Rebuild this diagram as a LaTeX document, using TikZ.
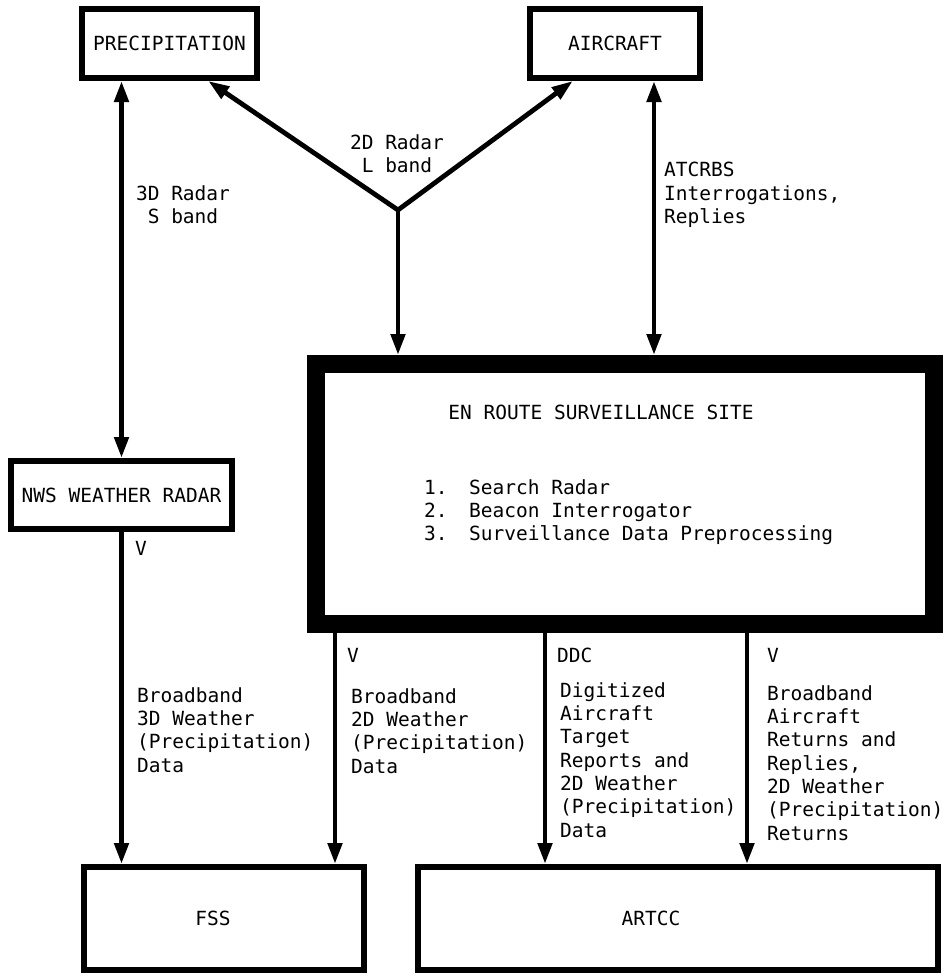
\documentclass[tikz,border=0pt]{standalone}
\usepackage{fontspec}
\setmainfont{DejaVu Sans Mono}
\usetikzlibrary{arrows.meta,calc}
\newcommand\labfont{\fontsize{19.5}{23.3}\selectfont}
\begin{document}
\begin{tikzpicture}[x=1pt,y=-1pt,
  box/.style={draw,line width=6pt,inner sep=0pt,font=\labfont},
  lab/.style={inner sep=0pt,font=\labfont,align=left,anchor=west},
  conn/.style={line width=4.8pt,-{Triangle[length=21pt,width=14pt]}},
  both/.style={line width=4.8pt,{Triangle[length=21pt,width=14pt]}-{Triangle[length=21pt,width=14pt]}}]
\useasboundingbox[fill=white] (0,0) rectangle (943,978);

% boxes
\node[box,minimum width=175pt,minimum height=69pt] (prec) at (169.5,43.5) {PRECIPITATION};
\node[box,minimum width=170pt,minimum height=69pt] (air) at (615,43.5) {AIRCRAFT};
\node[box,minimum width=221pt,minimum height=68pt] (nws) at (121.5,495) {NWS WEATHER RADAR};
\node[draw,line width=18pt,inner sep=0pt,minimum width=618pt,minimum height=260pt] (site) at (625,494) {};
\node[box,minimum width=280pt,minimum height=103pt,label={[font=\labfont,inner sep=0pt,xshift=-11pt]center:FSS}] (fss) at (224,918.5) {};
\node[box,minimum width=520pt,minimum height=103pt,label={[font=\labfont,inner sep=0pt,xshift=-27pt]center:ARTCC}] (artcc) at (678,918.5) {};

% site contents
\node[lab,anchor=center] (title) at (601,412) {EN ROUTE SURVEILLANCE SITE};
\node[lab] (list) at (424,512) {\makebox[45pt][l]{1.}Search Radar\\
\makebox[45pt][l]{2.}Beacon Interrogator\\
\makebox[45pt][l]{3.}Surveillance Data Preprocessing};

% coordinates
\coordinate (J) at (398,210);
\coordinate (xa) at (654,0);
\coordinate (x1) at (335,0);
\coordinate (x2) at (545,0);
\coordinate (x3) at (747,0);

% top connectors
\draw[both] (prec.south -| nws.north) -- (nws.north);
\draw[both,line join=miter] ($(prec.south west)!0.714!(prec.south east)$) -- (J) -- ($(air.south west)!0.26!(air.south east)$);
\draw[conn] (J) -- (site.north -| J);
\draw[both] (air.south -| xa) -- (site.north -| xa);

% bottom connectors
\draw[conn] (nws.south) -- (fss.north -| nws.south);
\draw[conn] (site.south -| x1) -- (fss.north -| x1);
\draw[conn] (site.south -| x2) -- (artcc.north -| x2);
\draw[conn] (site.south -| x3) -- (artcc.north -| x3);

% labels
\node[lab,anchor=center,align=center] (l2d) at (397,154) {2D Radar\\L band};
\node[lab,anchor=center,align=center] (l3d) at (183,205) {3D Radar\\S band};
\node[lab] (latc) at (664,195) {ATCRBS\\Interrogations,\\Replies};
\node[lab] (lv0) at (135,548) {V};
\node[lab] (lb1) at (137,730) {Broadband\\3D Weather\\(Precipitation)\\Data};
\node[lab] (lv1) at (347,655) {V};
\node[lab] (lb2) at (351,731) {Broadband\\2D Weather\\(Precipitation)\\Data};
\node[lab] (lddc) at (557,655) {DDC};
\node[lab] (lb3) at (560,760) {Digitized\\Aircraft\\Target\\Reports and\\2D Weather\\(Precipitation)\\Data};
\node[lab] (lv3) at (767,655) {V};
\node[lab] (lb4) at (767,763) {Broadband\\Aircraft\\Returns and\\Replies,\\2D Weather\\(Precipitation)\\Returns};
\end{tikzpicture}
\end{document}
